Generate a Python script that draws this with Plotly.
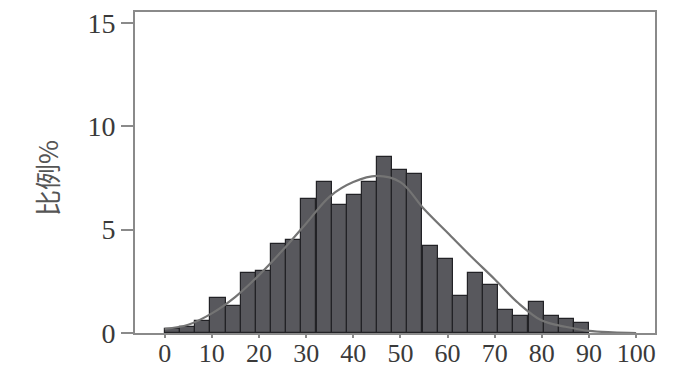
import plotly.graph_objects as go

# Histogram bars (bin centres, percentage)
bin_centers = [1.6, 4.8, 8.0, 11.3, 14.5, 17.7, 20.9, 24.1, 27.3, 30.5, 33.8, 37.0, 40.2, 43.4,
               46.6, 49.8, 53.0, 56.3, 59.5, 62.7, 65.9, 69.1, 72.3, 75.5, 78.8, 82.0, 85.2, 88.4]
bar_pct = [0.2, 0.3, 0.6, 1.7, 1.3, 2.9, 3.0, 4.3, 4.5, 6.5, 7.3, 6.2, 6.7, 7.3,
           8.5, 7.9, 7.7, 4.2, 3.6, 1.8, 2.9, 2.3, 1.1, 0.8, 1.5, 0.8, 0.7, 0.5]
bin_width = 3.2

# Fitted curve
curve_x = [0, 5, 10, 15, 20, 25, 30, 35, 40, 45, 50, 55, 60, 65, 70, 75, 80, 85, 90, 95, 100]
curve_y = [0.2, 0.4, 0.95, 1.75, 2.8, 4.0, 5.3, 6.6, 7.3, 7.6, 7.3, 6.0, 4.85, 3.7, 2.6, 1.45,
           0.6, 0.3, 0.1, 0.03, 0.0]

x_ticks = [0, 10, 20, 30, 40, 50, 60, 70, 80, 90, 100]
y_ticks = [0, 5, 10, 15]
y_title = "比例%"

fig = go.Figure()
fig.add_trace(go.Bar(
    x=bin_centers, y=bar_pct, width=[bin_width] * len(bin_centers),
    marker=dict(color="#58585d", line=dict(color="#222226", width=1.2)),
    showlegend=False,
))
fig.add_trace(go.Scatter(
    x=curve_x, y=curve_y, mode="lines",
    line=dict(color="#747474", width=2.2, shape="spline"),
    showlegend=False,
))

tick_font = dict(family="Liberation Serif", size=28, color="#3a3a3a")
fig.update_layout(
    width=687, height=368,
    margin=dict(l=135, r=32, t=12, b=35, autoexpand=False),
    paper_bgcolor="white", plot_bgcolor="white",
    bargap=0,
    xaxis=dict(range=[-6.3, 104], tickvals=x_ticks, ticktext=[str(v) for v in x_ticks],
               automargin=False, ticklabelstandoff=-7,
               showgrid=False, zeroline=False, showline=True, linecolor="#8a8a8a", linewidth=2,
               mirror=True, ticks="outside", ticklen=3, tickwidth=1.5, tickcolor="#8a8a8a",
               tickfont=dict(family="Liberation Serif", size=26, color="#3a3a3a")),
    yaxis=dict(range=[0, 15.53], tickvals=y_ticks, ticktext=[str(v) for v in y_ticks],
               automargin=False,
               showgrid=False, zeroline=False, showline=True, linecolor="#8a8a8a", linewidth=2,
               mirror=True, ticks="outside", ticklen=12, tickwidth=1.5, tickcolor="#8a8a8a",
               tickfont=tick_font),
    annotations=[dict(text=y_title, xref="paper", yref="paper", x=-0.169, y=0.483,
                      xanchor="center", yanchor="middle",
                      textangle=-90, showarrow=False,
                      font=dict(family="Noto Sans CJK SC", size=26, color="#555555"))],
)

fig.write_html("out.html", config={"displayModeBar": False},
               post_script="document.body.style.margin='0';document.body.style.overflow='hidden';")
